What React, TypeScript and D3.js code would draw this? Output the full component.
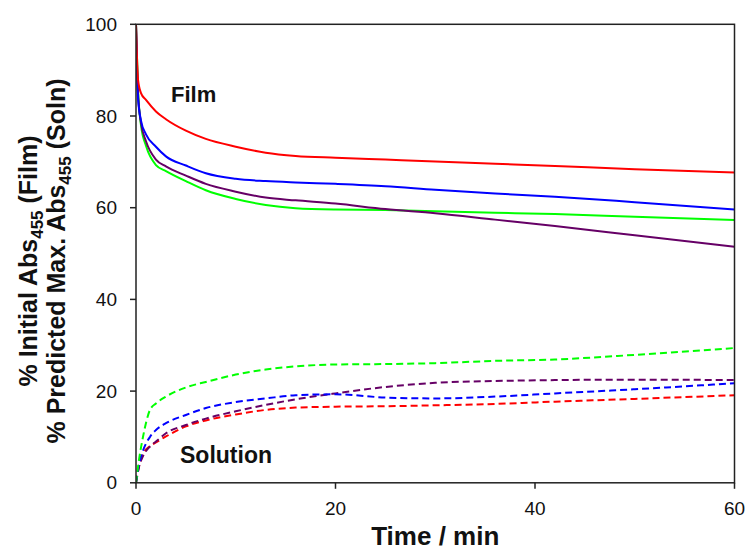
import React from "react";
import * as d3 from "d3";

// Elapsed time (min) and absorbance traces
const filmTime = [0, 0.2, 0.5, 1, 2, 3, 5, 7, 10, 13, 16, 20, 25, 30, 36, 42, 50, 60];
const filmRed = [100, 88, 85, 83.5, 81, 79.3, 76.8, 75, 73.3, 72, 71.3, 70.9, 70.5, 70.1, 69.6, 69.1, 68.4, 67.7];
const filmBlue = [100, 84, 79, 76, 73.3, 71.2, 69.2, 67.5, 66.3, 65.8, 65.5, 65.2, 64.7, 63.9, 63.1, 62.4, 61.2, 59.6];
const filmGreen = [100, 86, 78, 73.5, 69.3, 68, 65.8, 63.8, 61.9, 60.6, 59.9, 59.6, 59.5, 59.2, 58.9, 58.6, 58.0, 57.3];
const filmPurple = [100, 85, 78.5, 74.5, 70.5, 69, 67, 65.2, 63.5, 62.2, 61.6, 60.9, 59.7, 58.8, 57.4, 56, 54, 51.5];

const solnTime = [0, 0.3, 0.7, 1.4, 2, 3, 5, 7, 10, 13, 16, 20, 25, 30, 36, 42, 50, 60];
const solnGreen = [0, 5, 10, 15.9, 17.3, 18.8, 20.8, 22, 23.6, 24.7, 25.4, 25.8, 25.9, 26.1, 26.6, 26.9, 27.9, 29.4];
const solnBlue = [0, 4, 7, 10, 11.5, 13, 14.8, 16.3, 17.6, 18.4, 19.1, 19.3, 18.6, 18.4, 18.8, 19.5, 20.4, 21.7];
const solnPurple = [0, 3.5, 5.8, 7.9, 9, 10.8, 12.6, 14, 15.6, 17, 18.2, 19.5, 20.9, 21.8, 22.2, 22.4, 22.5, 22.4];
const solnRed = [0, 3.5, 6.2, 8, 8.8, 10.1, 12.3, 13.6, 14.9, 15.9, 16.4, 16.6, 16.7, 16.9, 17.2, 17.7, 18.3, 19.1];

const xTicks = [0, 20, 40, 60];
const yTicks = [0, 20, 40, 60, 80, 100];

const RED = "#ff0000";
const BLUE = "#0000ff";
const GREEN = "#00ff00";
const PURPLE = "#660066";

const W = 747;
const H = 550;
const plot = { left: 136, right: 734.5, top: 24.3, bottom: 482.8 };

export default function App() {
  const x = d3.scaleLinear().domain([0, 60]).range([plot.left, plot.right]);
  const y = d3.scaleLinear().domain([0, 100]).range([plot.bottom, plot.top]);

  const line = d3
    .line<[number, number]>()
    .x((d) => x(d[0]))
    .y((d) => y(d[1]))
    .curve(d3.curveMonotoneX);

  const zip = (t: number[], v: number[]) => t.map((tt, i) => [tt, v[i]] as [number, number]);

  const film = [
    { v: filmGreen, c: GREEN },
    { v: filmPurple, c: PURPLE },
    { v: filmBlue, c: BLUE },
    { v: filmRed, c: RED },
  ];
  const soln = [
    { v: solnRed, c: RED },
    { v: solnPurple, c: PURPLE },
    { v: solnBlue, c: BLUE },
    { v: solnGreen, c: GREEN },
  ];

  const axisColor = "#222";
  const font = "'Liberation Sans', Arial, sans-serif";
  const cy = 261;

  return (
    <svg
      width={W}
      height={H}
      style={{ position: "absolute", left: 0, top: 0, background: "#fff" }}
      fontFamily={font}
    >
      <defs>
        <clipPath id="plotClip">
          <rect x={plot.left} y={plot.top - 2} width={plot.right - plot.left + 2} height={plot.bottom - plot.top + 4} />
        </clipPath>
      </defs>

      <g clipPath="url(#plotClip)">
        {soln.map((s, i) => (
          <path
            key={"s" + i}
            d={line(zip(solnTime, s.v)) || ""}
            fill="none"
            stroke={s.c}
            strokeWidth={2}
            strokeDasharray="7,4"
          />
        ))}
        {film.map((s, i) => (
          <path key={"f" + i} d={line(zip(filmTime, s.v)) || ""} fill="none" stroke={s.c} strokeWidth={2} />
        ))}
      </g>

      {/* frame */}
      <rect
        x={plot.left}
        y={plot.top}
        width={plot.right - plot.left}
        height={plot.bottom - plot.top}
        fill="none"
        stroke={axisColor}
        strokeWidth={1.5}
      />

      {/* y axis ticks */}
      {yTicks.map((t) => (
        <g key={"y" + t}>
          <line x1={plot.left - 6} x2={plot.left} y1={y(t)} y2={y(t)} stroke={axisColor} strokeWidth={1.5} />
          <text x={plot.left - 19} y={y(t)} dy="0.35em" textAnchor="end" fontSize={19} fill="#111">
            {t}
          </text>
        </g>
      ))}

      {/* x axis ticks */}
      {xTicks.map((t) => (
        <g key={"x" + t}>
          <line x1={x(t)} x2={x(t)} y1={plot.bottom} y2={plot.bottom + 6} stroke={axisColor} strokeWidth={1.5} />
          <text x={x(t)} y={515} textAnchor="middle" fontSize={19} fill="#111">
            {t}
          </text>
        </g>
      ))}

      {/* axis titles */}
      <text x={(plot.left + plot.right) / 2} y={545} textAnchor="middle" fontSize={26} fontWeight="bold" fill="#111">
        Time / min
      </text>
      <g transform={`translate(37, ${cy}) rotate(-90)`}>
        <text x={0} y={0} textAnchor="middle" fontSize={25} fontWeight="bold" fill="#111">
          % Initial Abs
          <tspan fontSize={17} dy={6}>455</tspan>
          <tspan dy={-6}> (Film)</tspan>
        </text>
      </g>
      <g transform={`translate(65, ${cy}) rotate(-90)`}>
        <text x={0} y={0} textAnchor="middle" fontSize={25} fontWeight="bold" fill="#111">
          % Predicted Max. Abs
          <tspan fontSize={17} dy={6}>455</tspan>
          <tspan dy={-6}> (Soln)</tspan>
        </text>
      </g>

      {/* annotations */}
      <text x={171} y={102} fontSize={22} fontWeight="bold" fill="#111">
        Film
      </text>
      <text x={180} y={463} fontSize={23} fontWeight="bold" fill="#111">
        Solution
      </text>
    </svg>
  );
}
